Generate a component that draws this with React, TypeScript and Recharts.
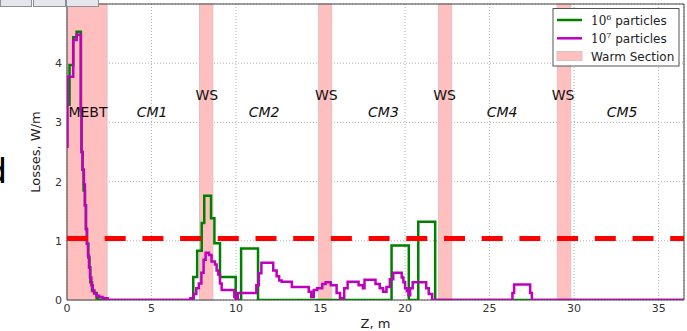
import { LineChart, Line, XAxis, YAxis, CartesianGrid, ReferenceArea, ReferenceLine, ReferenceDot } from 'recharts'

const FONT = '"DejaVu Sans", sans-serif'

// step breakpoints (Z, m) and losses (W/m), 10^6 particles
const z6 = [
  0, 0.15, 0.37, 0.57, 0.82, 0.86, 0.92, 0.98, 1.06, 1.12, 1.18, 1.26, 1.33, 1.38, 1.48, 1.6, 1.75, 1.85,
  7.47, 7.7, 7.97, 8.12, 8.52, 8.72, 9.05, 9.98, 10.3, 11.3,
  19.2, 20.22, 20.78, 21.78, 36.5,
]
const loss6 = [
  3.3, 3.97, 4.44, 4.53, 3.2, 2.5, 2.2, 1.85, 1.6, 1.2, 0.95, 0.72, 0.55, 0.3, 0.15, 0.12, 0.03, 0,
  0.39, 0.83, 1.3, 1.76, 1.38, 0.96, 0.39, 0, 0.87, 0,
  0.92, 0, 1.32, 0, 0,
]

// 10^7 particles
const z7 = [
  0, 0.03, 0.37, 0.57, 0.82, 0.86, 0.92, 1.0, 1.06, 1.12, 1.18, 1.24, 1.3, 1.36, 1.44, 1.52, 1.62, 1.75, 1.9, 2.1, 2.4,
  7.3, 7.5, 7.65, 7.8, 7.95, 8.08, 8.2, 8.4, 8.55, 8.75, 8.85, 8.95, 9.05, 9.15, 9.9, 10.0, 10.1,
  11.2, 11.35, 11.5, 12.2, 12.4, 12.55, 12.7, 13.3, 14.3, 14.45, 14.6, 14.8, 15.1, 15.3, 15.6, 15.95,
  16.15, 16.4, 16.6, 17.25, 17.5, 17.6, 18.25, 18.5, 18.7, 18.9, 19.1, 19.3, 19.8, 19.9, 20.0, 20.1,
  20.2, 20.3, 20.45, 21.25, 21.4, 21.6, 26.35, 26.45, 27.4, 27.5, 36.5,
]
const loss7 = [
  2.59, 3.77, 4.39, 4.48, 3.2, 2.5, 2.2, 1.95, 1.6, 1.2, 0.95, 0.75, 0.55, 0.38, 0.25, 0.16, 0.11, 0.07, 0.05, 0.03, 0,
  0.03, 0.1, 0.2, 0.28, 0.46, 0.68, 0.8, 0.76, 0.65, 0.6, 0.5, 0.43, 0.28, 0.17, 0.05, 0.02, 0.12,
  0.25, 0.45, 0.63, 0.5, 0.4, 0.33, 0.31, 0.22, 0.14, 0.05, 0.17, 0.2, 0.27, 0.3, 0.25, 0.12,
  0.03, 0.2, 0.31, 0.25, 0.2, 0.34, 0.27, 0.2, 0.14, 0.22, 0.35, 0.46, 0.38, 0.3, 0.2, 0.15,
  0.08, 0.2, 0.3, 0.2, 0.1, 0, 0.12, 0.26, 0.12, 0, 0,
]

const warmStart = [0, 7.84, 14.87, 21.97, 29.0]
const warmEnd = [2.37, 8.63, 15.66, 22.76, 29.8]

const sectionNames = ['MEBT', 'CM1', 'CM2', 'CM3', 'CM4', 'CM5']
const sectionZ = [1.24, 5.03, 11.66, 18.72, 25.74, 32.84]
const wsZ = [8.27, 15.34, 22.34, 29.35]

const xTicks = [0, 5, 10, 15, 20, 25, 30, 35]
const yTicks = [0, 1, 2, 3, 4]
const limit = 1.04

const data6 = z6.map((z, i) => ({ z, v: loss6[i] }))
const data7 = z7.map((z, i) => ({ z, v: loss7[i] }))

const tickStyle = { fontSize: 11, fill: '#333', fontFamily: FONT }

export default function App() {
  return (
    <div style={{ position: 'absolute', left: 0, top: 0, width: 687, height: 331, background: '#fff', overflow: 'hidden' }}>
      <LineChart width={687} height={331} margin={{ top: 4, right: 3, bottom: 0, left: 0 }}>
        <CartesianGrid stroke="#b0b0b0" strokeDasharray="1 2" />
        {warmStart.map((s, i) => (
          <ReferenceArea key={i} x1={s} x2={warmEnd[i]} y1={0} y2={5} fill="#ffbfbf" fillOpacity={1} stroke="#d9c4c4" strokeWidth={1} />
        ))}
        <XAxis
          type="number"
          dataKey="z"
          domain={[0, 36.5]}
          ticks={xTicks}
          allowDataOverflow
          height={31}
          tickSize={0}
          tickMargin={4}
          axisLine={false}
          tick={tickStyle}
          label={{ value: 'Z, m', position: 'insideBottom', offset: 3, fontSize: 13, fill: '#222', fontFamily: FONT }}
        />
        <YAxis
          type="number"
          domain={[0, 5]}
          ticks={yTicks}
          allowDataOverflow
          width={67}
          tickSize={0}
          tickMargin={5}
          axisLine={false}
          tick={tickStyle}
        />
        <Line data={data6} dataKey="v" type="stepAfter" stroke="#008000" strokeWidth={2.5} dot={false} isAnimationActive={false} />
        <Line data={data7} dataKey="v" type="stepAfter" stroke="#bf00bf" strokeWidth={2.5} dot={false} isAnimationActive={false} />
        <ReferenceLine y={limit} stroke="#ff0000" strokeWidth={5} strokeDasharray="21 16.7" />
        <ReferenceArea x1={0} x2={36.5} y1={0} y2={5} fill="none" stroke="#444" strokeWidth={1} />
        {sectionNames.map((n, i) => (
          <ReferenceDot
            key={n}
            x={sectionZ[i]}
            y={3.17}
            r={1}
            fill="none"
            stroke="none"
            label={{ value: n, position: 'center', fontSize: 14, fill: '#111', fontFamily: FONT, fontStyle: i === 0 ? 'normal' : 'italic' }}
          />
        ))}
        {wsZ.map((z) => (
          <ReferenceDot
            key={z}
            x={z}
            y={3.46}
            r={1}
            fill="none"
            stroke="none"
            label={{ value: 'WS', position: 'center', fontSize: 14, fill: '#111', fontFamily: FONT }}
          />
        ))}
      </LineChart>
      <svg width={687} height={331} style={{ position: 'absolute', left: 0, top: 0, pointerEvents: 'none' }}>
        <rect x={0.5} y={-1} width={31} height={7.5} fill="#e4e6ec" stroke="#8a8f99" />
        <rect x={33.5} y={-1} width={32} height={7.5} fill="#e4e6ec" stroke="#8a8f99" />
        <rect x={66.5} y={-1} width={32} height={7.5} fill="#e4e6ec" stroke="#8a8f99" />
        <text x={7} y={183} textAnchor="end" fontSize={34} fontFamily={FONT} fill="#000">d</text>
        <text
          x={40}
          y={152}
          transform="rotate(-90 40 152)"
          textAnchor="middle"
          fontSize={13}
          fontFamily={FONT}
          fill="#222"
        >
          Losses, W/m
        </text>
        <g fontFamily={FONT} fontSize={12} fill="#222">
          <rect x={553} y={8.5} width={126} height={57.5} fill="#fff" stroke="#555" />
          <line x1={557} x2={582} y1={20} y2={20} stroke="#008000" strokeWidth={2.5} />
          <text x={591} y={24.5}>
            <tspan fontFamily='"DejaVu Serif", serif'>10</tspan>
            <tspan fontSize={8} dy={-5} fontFamily='"DejaVu Serif", serif'>6</tspan>
            <tspan dy={5}> particles</tspan>
          </text>
          <line x1={557} x2={582} y1={38.3} y2={38.3} stroke="#bf00bf" strokeWidth={2.5} />
          <text x={591} y={42.8}>
            <tspan fontFamily='"DejaVu Serif", serif'>10</tspan>
            <tspan fontSize={8} dy={-5} fontFamily='"DejaVu Serif", serif'>7</tspan>
            <tspan dy={5}> particles</tspan>
          </text>
          <rect x={557} y={51.5} width={25} height={9} fill="#ffbfbf" stroke="#d9c4c4" />
          <text x={591} y={60.5}>Warm Section</text>
        </g>
      </svg>
    </div>
  )
}
